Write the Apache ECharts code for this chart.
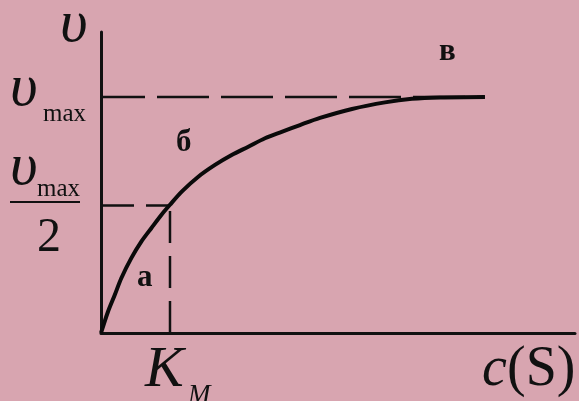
<!DOCTYPE html>
<html>
<head>
<meta charset="utf-8">
<script src="https://cdn.jsdelivr.net/npm/echarts@6/dist/echarts.min.js"></script>
<style>
  html, body { margin: 0; padding: 0; background: #d8a5b0; }
  #chart { width: 579px; height: 401px; }
</style>
</head>
<body>
<div id="chart"></div>
<script>
    // curve points, x in units of K_M, y in units of v_max
    var curveX = [0, 0.101, 0.199, 0.294, 0.439, 0.584, 0.729, 0.874, 0.996, 1.170, 1.410, 1.652, 1.894, 2.135, 2.377, 2.619, 2.884, 3.174, 3.638, 4.116, 4.507, 4.913, 5.565];
    var curveY = [0, 0.090, 0.161, 0.232, 0.317, 0.387, 0.444, 0.500, 0.542, 0.599, 0.662, 0.712, 0.754, 0.789, 0.825, 0.852, 0.881, 0.911, 0.949, 0.977, 0.992, 0.998, 1.0];
    var vMax = 1;
    var vHalf = 0.54;
    var kM = 1;
    var xEnd = 5.565;

    var chart = echarts.init(document.getElementById('chart'));

    var serif = '"Liberation Serif", "DejaVu Serif", serif';
    var lineData = curveX.map(function (x, i) { return [x, curveY[i]]; });

    chart.setOption({
        backgroundColor: '#d8a5b0',
        animation: false,
        grid: { left: 101, right: 4, top: 32, bottom: 68 },
        xAxis: {
            type: 'value', min: 0, max: 6.87,
            axisLine: { lineStyle: { color: '#111', width: 3 } },
            axisTick: { show: false }, axisLabel: { show: false }, splitLine: { show: false }
        },
        yAxis: {
            type: 'value', min: 0, max: 1.275,
            axisLine: { show: true, lineStyle: { color: '#111', width: 3 } },
            axisTick: { show: false }, axisLabel: { show: false }, splitLine: { show: false }
        },
        series: [
            {
                type: 'line', data: [[0, vMax], [xEnd, vMax]],
                symbol: 'none', lineStyle: { color: '#111', width: 2.5, type: [52, 12], dashOffset: 8 }, z: 1
            },
            {
                type: 'line', data: [[0, vHalf], [kM, vHalf]],
                symbol: 'none', lineStyle: { color: '#111', width: 2.5, type: [33, 12] }, z: 1
            },
            {
                type: 'line', data: [[kM, 0], [kM, vHalf]],
                symbol: 'none', lineStyle: { color: '#111', width: 2.5, type: [32, 13] }, z: 1
            },
            {
                type: 'line', data: lineData, smooth: 0.3,
                symbol: 'none', lineStyle: { color: '#0a0a0a', width: 4 }, z: 3
            }
        ],
        graphic: [
            { type: 'text', left: 60, top: -5, style: { text: 'υ', font: 'italic 60px ' + serif, fill: '#111' } },
            { type: 'text', left: 10, top: 59, style: { text: 'υ', font: 'italic 60px ' + serif, fill: '#111' } },
            { type: 'text', left: 43, top: 102, style: { text: 'max', font: '25px ' + serif, fill: '#111' } },
            { type: 'text', left: 10, top: 138, style: { text: 'υ', font: 'italic 60px ' + serif, fill: '#111' } },
            { type: 'text', left: 37, top: 177, style: { text: 'max', font: '25px ' + serif, fill: '#111' } },
            { type: 'rect', shape: { x: 10, y: 201, width: 70, height: 2 }, style: { fill: '#111' } },
            { type: 'text', left: 37, top: 214, style: { text: '2', font: '48px ' + serif, fill: '#111' } },
            { type: 'text', left: 145, top: 342, style: { text: 'K', font: 'italic 58px ' + serif, fill: '#111' } },
            { type: 'text', left: 188, top: 382, style: { text: 'M', font: 'italic 27px ' + serif, fill: '#111' } },
            { type: 'text', left: 482, top: 342, style: { text: 'c', font: 'italic 56px ' + serif, fill: '#111' } },
            { type: 'text', left: 507, top: 342, style: { text: '(S)', font: '56px ' + serif, fill: '#111' } },
            { type: 'text', left: 137, top: 262, style: { text: 'а', font: 'bold 31px ' + serif, fill: '#111' } },
            { type: 'text', left: 176, top: 127, style: { text: 'б', font: 'bold 31px ' + serif, fill: '#111' } },
            { type: 'text', left: 439, top: 36, style: { text: 'в', font: 'bold 31px ' + serif, fill: '#111' } }
        ]
    });
</script>
</body>
</html>
